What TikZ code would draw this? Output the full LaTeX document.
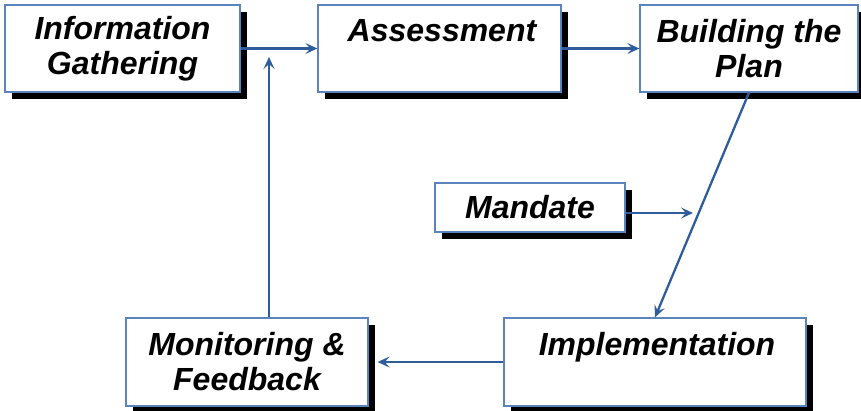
\documentclass[tikz,border=0pt]{standalone}
\usepackage{fontspec}
\setmainfont{Liberation Sans}
\usetikzlibrary{shadows,arrows.meta}
\definecolor{boxblue}{HTML}{5B84BE}
\definecolor{arrblue}{HTML}{2F5D9C}
\tikzset{
  box/.style={draw=boxblue, line width=1.3pt, fill=white, inner sep=0pt,
    drop shadow={shadow xshift=7pt, shadow yshift=-7pt, fill=black, opacity=1},
    font=\fontsize{32}{35}\selectfont\bfseries\itshape, align=center},
  conn/.style={draw=arrblue, line width=2.3pt, -{Stealth[length=12pt,width=11pt,inset=5pt]}},
  toplabel/.style={font=\fontsize{32}{35}\selectfont\bfseries\itshape, anchor=base, inner sep=0pt}
}
\begin{document}
\begin{tikzpicture}[x=1pt,y=1pt]
\useasboundingbox (0,0) rectangle (861,-410);
\node[box, minimum width=235, minimum height=87] (ig) at (122.5,-48.5) {Information\\Gathering};
\node[box, minimum width=243, minimum height=87] (as) at (439.5,-48.5) {};
\node[toplabel] (ast) at (442,-41) {Assessment};
\node[box, minimum width=218, minimum height=87] (bp) at (749,-48.5) {Building the\\Plan};
\node[box, minimum width=190, minimum height=49] (md) at (530,-207.5) {Mandate};
\node[box, minimum width=302, minimum height=88] (im) at (655,-362) {};
\node[toplabel] (imt) at (657,-355) {Implementation};
\node[box, minimum width=242, minimum height=88] (mf) at (247,-362) {Monitoring \&\\Feedback};
\coordinate (upTip) at (269,-57);
\coordinate (mdTip) at (693,-213);
\draw[conn] (ig.east) -- (as.west);
\draw[conn] (as.east) -- (bp.west);
\draw[conn] (bp.south) -- (im.north);
\draw[conn] (md.east |- mdTip) -- (mdTip);
\draw[conn, shorten >=9pt] (im.west) -- (mf.east);
\draw[conn] (mf.north -| upTip) -- (upTip);
\end{tikzpicture}
\end{document}
